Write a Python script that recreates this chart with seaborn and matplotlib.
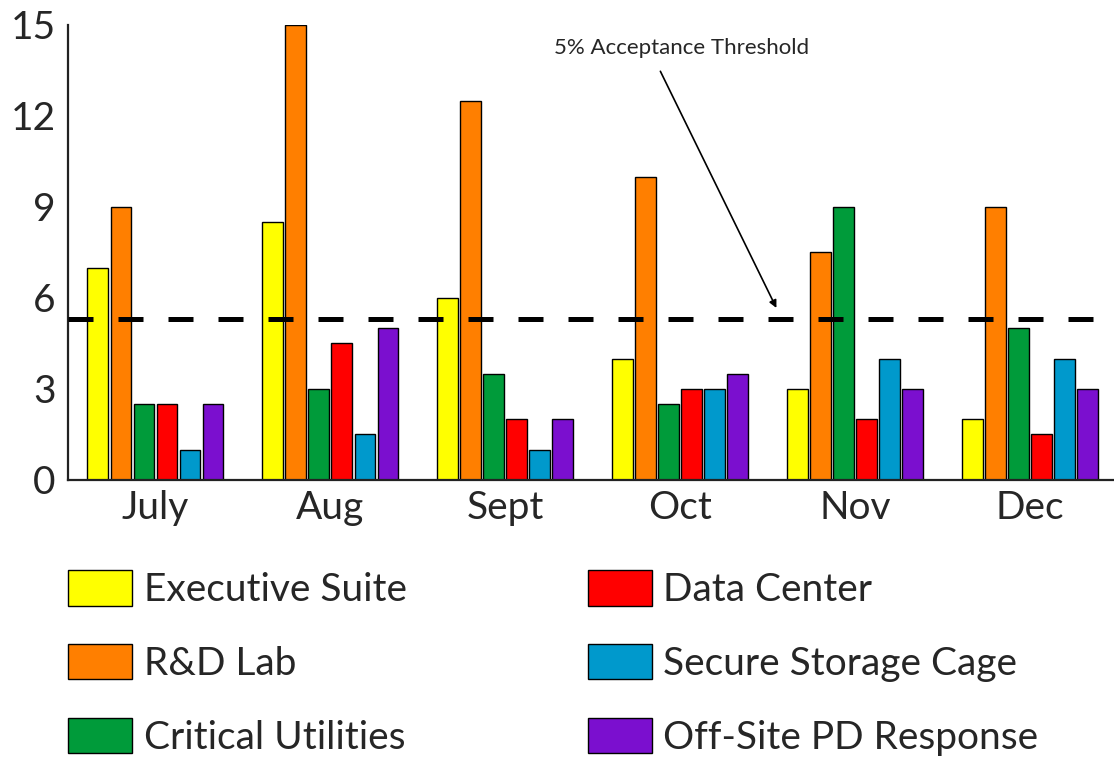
import matplotlib
matplotlib.use("Agg")
import matplotlib.pyplot as plt
import seaborn as sns
import pandas as pd

months = ["July", "Aug", "Sept", "Oct", "Nov", "Dec"]
series_names = ["Executive Suite", "R&D Lab", "Critical Utilities",
                "Data Center", "Secure Storage Cage", "Off-Site PD Response"]
executive_suite = [7, 8.5, 6, 4, 3, 2]
rd_lab = [9, 15, 12.5, 10, 7.5, 9]
critical_utilities = [2.5, 3, 3.5, 2.5, 9, 5]
data_center = [2.5, 4.5, 2, 3, 2, 1.5]
secure_storage = [1, 1.5, 1, 3, 4, 4]
offsite_pd = [2.5, 5, 2, 3.5, 3, 3]
threshold = 5.3
y_ticks = [0, 3, 6, 9, 12, 15]
colors = ["#FFFF00", "#FF7F00", "#009B3A", "#FF0000", "#0099CC", "#7B0FCF"]

all_series = [executive_suite, rd_lab, critical_utilities,
              data_center, secure_storage, offsite_pd]
rows = []
for name, vals in zip(series_names, all_series):
    for m, v in zip(months, vals):
        rows.append({"month": m, "series": name, "value": v})
df = pd.DataFrame(rows)

sns.set_style("white")
plt.rcParams['font.family'] = ['Lato', 'DejaVu Sans']

fig = plt.figure(figsize=(11.14, 7.57), dpi=100)
ax = fig.add_axes([0.061, 0.366, 0.939, 0.601])

sns.barplot(data=df, x="month", y="value", hue="series", order=months,
            hue_order=series_names, palette=colors, saturation=1,
            width=0.79, gap=0.1,
            edgecolor="black", linewidth=1.0, ax=ax, legend=True)

ax.axhline(threshold, color="black", lw=3.6, dashes=(5, 5), zorder=5)

ax.set_ylim(0, 15)
ax.set_xlim(-0.5, 5.48)
ax.set_yticks(y_ticks)
ax.set_xlabel("")
ax.set_ylabel("")
for s in ["top", "right"]:
    ax.spines[s].set_visible(False)
for s in ["left", "bottom"]:
    ax.spines[s].set_linewidth(1.6)
    ax.spines[s].set_color("#222222")

ax.tick_params(axis="y", direction="in", length=18, width=1.5, labelsize=28, pad=9, color="#222222")
ax.tick_params(axis="x", which="major", length=0, labelsize=28, pad=7)
ax.set_xticks([0.5, 1.5, 2.5, 3.5, 4.5], minor=True)
ax.tick_params(axis="x", which="minor", direction="in", length=7, width=1.5, color="#222222")

ax.annotate("5% Acceptance Threshold", xy=(3.55, 5.67), xytext=(3.01, 14.24),
            ha="center", va="center", fontsize=16,
            arrowprops=dict(arrowstyle="-|>", color="black", lw=1.2,
                            relpos=(0.39, 0.0), shrinkA=8, shrinkB=0,
                            mutation_scale=11))

handles, labels = ax.get_legend_handles_labels()
ax.get_legend().remove()
fig.legend(handles, labels, ncol=2, loc="upper left",
           bbox_to_anchor=(0.061, 0.247), frameon=False, fontsize=28,
           borderpad=0, borderaxespad=0, handlelength=1.65, handleheight=1.03,
           handletextpad=0.3, columnspacing=4.65, labelspacing=0.92)

fig.savefig("out.png", dpi=100)
